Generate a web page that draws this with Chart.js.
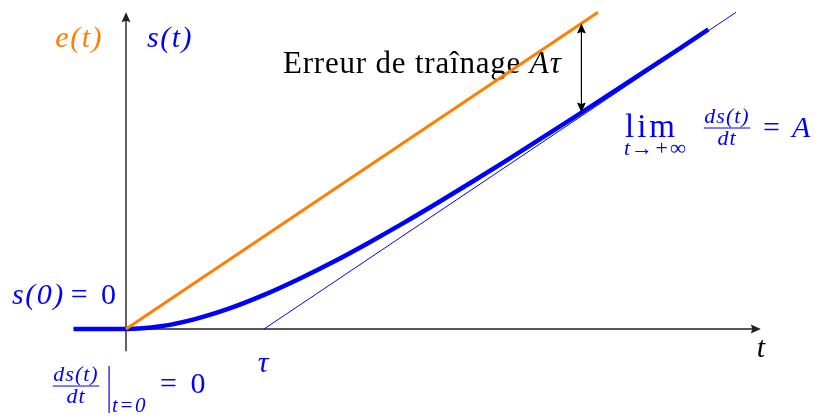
<!DOCTYPE html>
<html>
<head>
<meta charset="utf-8">
<script src="https://cdn.jsdelivr.net/npm/chart.js@4/dist/chart.umd.min.js"></script>
<style>
  html, body { margin: 0; padding: 0; background: #fff; }
  canvas { display: block; }
</style>
</head>
<body>
<canvas id="chart" width="817" height="417"></canvas>
<script>
// time in units of tau, output in units of A*tau

// input ramp e(t)
const eTimes = [0, 3.42];
const eValues = [0, 3.42];

// response s(t), flat before t = 0
const sTimes = [-0.38, 0, 0.25, 0.5, 0.75, 1, 1.25, 1.5, 1.75, 2, 2.25, 2.5, 2.75, 3, 3.25, 3.5, 3.75, 4, 4.22];
const sValues = [0, 0, 0.029, 0.107, 0.222, 0.368, 0.537, 0.723, 0.924, 1.135, 1.355, 1.582, 1.814, 2.050, 2.289, 2.530, 2.774, 3.018, 3.235];

// asymptote of s(t), crosses the time axis at tau
const aTimes = [1, 4.42];
const aValues = [0, 3.42];

// tracking error arrow
const errorTime = 3.3;
const errorTop = 3.3;
const errorBottom = 2.337;

// axes extents
const tAxis = [-0.38, 4.6];
const sAxis = [-0.24, 3.42];

const BLUE = '#0000ff';
const ORANGE = '#ff8000';
const INK = '#222';
const SERIF = '"Liberation Serif"';

function toPoints(xs, ys) {
    return xs.map((x, i) => ({ x: x, y: ys[i] }));
}

function arrowHead(ctx, x, y, angle, len, half) {
    ctx.save();
    ctx.translate(x, y);
    ctx.rotate(angle);
    ctx.beginPath();
    ctx.moveTo(0, 0);
    ctx.lineTo(-len, -half);
    ctx.lineTo(-len * 0.85, 0);
    ctx.lineTo(-len, half);
    ctx.closePath();
    ctx.fill();
    ctx.restore();
}

// draws a run of text with extra space between glyphs, returns its width
function spaced(ctx, str, x, y, font, color, gap) {
    ctx.save();
    ctx.font = font;
    ctx.fillStyle = color;
    ctx.textAlign = 'left';
    ctx.textBaseline = 'alphabetic';
    let cx = x;
    for (const ch of str) {
        ctx.fillText(ch, cx, y);
        cx += ctx.measureText(ch).width + (gap || 0);
    }
    ctx.restore();
    return cx - x;
}

function spacedWidth(ctx, str, font, gap) {
    ctx.save();
    ctx.font = font;
    let w = 0;
    for (const ch of str) w += ctx.measureText(ch).width + (gap || 0);
    ctx.restore();
    return w;
}

function text(ctx, str, x, y, font, color, align, gap) {
    let left = x;
    const w = spacedWidth(ctx, str, font, gap);
    if (align === 'right') left = x - w;
    if (align === 'center') left = x - w / 2;
    return spaced(ctx, str, left, y, font, color, gap);
}

function fraction(ctx, top, bottom, cx, barY, size, color) {
    const f = 'italic ' + size + 'px ' + SERIF;
    const w = Math.max(spacedWidth(ctx, top, f, 1), spacedWidth(ctx, bottom, f, 1)) + 1;
    ctx.save();
    ctx.fillStyle = color;
    ctx.fillRect(cx - w / 2, barY - 0.5, w, 1);
    ctx.restore();
    text(ctx, top, cx, barY - 5, f, color, 'center', 1);
    text(ctx, bottom, cx, barY + size * 0.76, f, color, 'center', 1);
}

// axes and labels sit under the curves
const axesPlugin = {
    id: 'axes',
    beforeDatasetsDraw(chart) {
        const { ctx, scales: { x, y } } = chart;
        const x0 = x.getPixelForValue(0);
        const y0 = y.getPixelForValue(0);

        ctx.save();
        ctx.strokeStyle = INK;
        ctx.fillStyle = INK;
        ctx.lineWidth = 1.4;
        ctx.beginPath();
        ctx.moveTo(x.getPixelForValue(tAxis[0]), y0);
        ctx.lineTo(x.getPixelForValue(tAxis[1]) - 4, y0);
        ctx.moveTo(x0, y.getPixelForValue(sAxis[0]));
        ctx.lineTo(x0, y.getPixelForValue(sAxis[1]) + 4);
        ctx.stroke();
        arrowHead(ctx, x.getPixelForValue(tAxis[1]), y0, 0, 10, 4.5);
        arrowHead(ctx, x0, y.getPixelForValue(sAxis[1]), -Math.PI / 2, 10, 4.5);
        ctx.restore();

        const big = 'italic 30px ' + SERIF;
        const up = '30px ' + SERIF;
        text(ctx, 'e(t)', x0 - 23, 47, big, ORANGE, 'right', 1.5);
        text(ctx, 's(t)', x0 + 21, 47, big, BLUE, 'left', 1.5);
        text(ctx, 't', x.getPixelForValue(tAxis[1]) - 4, y0 + 28, big, '#000', 'left');
        text(ctx, 'τ', x.getPixelForValue(1) - 1, y0 + 43, big, BLUE, 'center');

        // s(0) = 0
        let cx = 12;
        cx += text(ctx, 's(0)', cx, y0 - 25, big, BLUE, 'left', 1.5);
        text(ctx, '= 0', cx + 6, y0 - 25, up, BLUE, 'left', 3);

        // ds/dt at t = 0
        fraction(ctx, 'ds(t)', 'dt', 76, y0 + 57, 22, BLUE);
        ctx.save();
        ctx.fillStyle = BLUE;
        ctx.fillRect(108.5, y0 + 37, 1.2, 47);
        ctx.restore();
        text(ctx, 't=0', 112, y0 + 83, 'italic 21px ' + SERIF, BLUE, 'left', 1.5);
        text(ctx, '= 0', 160, y0 + 64, up, BLUE, 'left', 3);

        // tracking error caption
        const capFont = '31px ' + SERIF;
        let w = text(ctx, 'Erreur de traînage ', 283, 73, capFont, '#000', 'left', 0.8);
        text(ctx, 'Aτ', 283 + w, 73, 'italic 31px ' + SERIF, '#000', 'left', 1);

        // limit of the slope
        text(ctx, 'lim', 625, 137, '33px ' + SERIF, BLUE, 'left', 3);
        text(ctx, 't→+∞', 624, 155, 'italic 22px ' + SERIF, BLUE, 'left', 1);
        fraction(ctx, 'ds(t)', 'dt', 727, 128, 22, BLUE);
        text(ctx, '=', 763, 137, up, BLUE, 'left');
        text(ctx, 'A', 792, 137, big, BLUE, 'left');
    },
    afterDatasetsDraw(chart) {
        const { ctx, scales: { x, y } } = chart;
        const ex = x.getPixelForValue(errorTime);
        const yTop = y.getPixelForValue(errorTop);
        const yBot = y.getPixelForValue(errorBottom);
        ctx.save();
        ctx.strokeStyle = '#000';
        ctx.fillStyle = '#000';
        ctx.lineWidth = 1.2;
        ctx.beginPath();
        ctx.moveTo(ex, yTop + 6);
        ctx.lineTo(ex, yBot - 6);
        ctx.stroke();
        arrowHead(ctx, ex, yTop, -Math.PI / 2, 10, 4.5);
        arrowHead(ctx, ex, yBot, Math.PI / 2, 10, 4.5);
        ctx.restore();
    }
};

new Chart(document.getElementById('chart'), {
    type: 'scatter',
    data: {
        datasets: [
            {
                label: 'asymptote',
                data: toPoints(aTimes, aValues),
                showLine: true,
                borderColor: BLUE,
                borderWidth: 1,
                pointRadius: 0
            },
            {
                label: 'e(t)',
                data: toPoints(eTimes, eValues),
                showLine: true,
                borderColor: ORANGE,
                borderWidth: 3,
                pointRadius: 0
            },
            {
                label: 's(t)',
                data: toPoints(sTimes, sValues),
                showLine: true,
                borderColor: BLUE,
                borderWidth: 4.5,
                cubicInterpolationMode: 'monotone',
                pointRadius: 0
            }
        ]
    },
    options: {
        responsive: false,
        animation: false,
        devicePixelRatio: 1,
        layout: { padding: 0 },
        plugins: {
            legend: { display: false },
            tooltip: { enabled: false }
        },
        scales: {
            x: { type: 'linear', display: false, min: -0.913, max: 5.007 },
            y: { type: 'linear', display: false, min: -0.95, max: 3.553 }
        }
    },
    plugins: [axesPlugin]
});
</script>
</body>
</html>
